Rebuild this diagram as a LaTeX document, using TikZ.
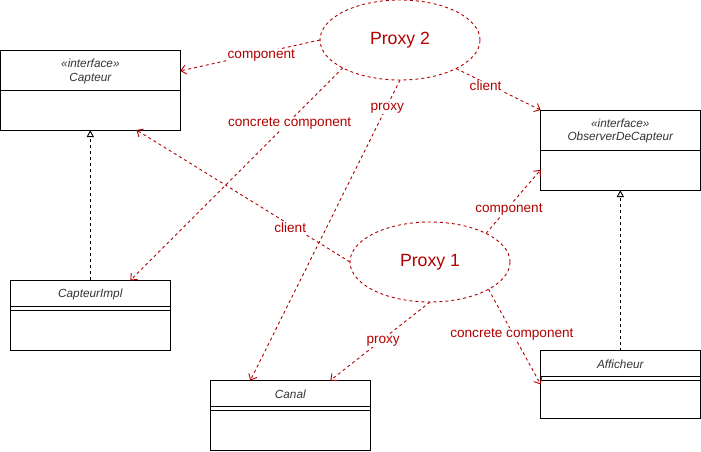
\documentclass[tikz,border=0pt]{standalone}
\usepackage{fontspec}
\setmainfont{Liberation Sans}
\usetikzlibrary{shapes.geometric,arrows.meta}
\definecolor{pred}{HTML}{B20000}
\definecolor{ctext}{HTML}{333333}
\begin{document}
\begin{tikzpicture}[x=1pt,y=-1pt,
  classbox/.style={draw=black,line width=0.9pt,inner sep=0pt,outer sep=0pt},
  cline/.style={draw=black,line width=0.9pt},
  cname/.style={text=ctext,align=center,inner sep=0pt,font=\fontsize{11.8}{13.5}\selectfont\itshape},
  proxyell/.style={ellipse,draw=pred,line width=0.9pt,dash pattern=on 3pt off 3pt,
    minimum width=160pt,minimum height=80pt,inner sep=0pt,outer sep=0pt,
    text=pred,font=\fontsize{17.7}{20}\selectfont},
  rarrow/.style={draw=pred,line width=0.9pt,dash pattern=on 3pt off 3pt,
    -{Straight Barb[length=5pt,width=9pt]}},
  lbl/.style={fill=white,text=pred,inner sep=1pt,yshift=-2.5pt,font=\fontsize{13.6}{15}\selectfont},
  inh/.style={draw=black,line width=0.9pt,dash pattern=on 3pt off 3pt,
    -{Triangle[open,length=7pt,width=7pt]}}
]
\useasboundingbox (0,0) rectangle (701,452);

% class boxes
\node[classbox,minimum width=179.8pt,minimum height=80pt] (capteur) at (90.4,90) {};
\draw[cline] ([yshift=-40pt]capteur.north west) -- ([yshift=-40pt]capteur.north east);
\node[cname] (capteurT) at (90.4,71.5) {«interface»\\Capteur};

\node[classbox,minimum width=160pt,minimum height=69.7pt] (impl) at (90.3,315.2) {};
\draw[cline] ([yshift=-26.4pt]impl.north west) -- ([yshift=-26.4pt]impl.north east);
\draw[cline] ([yshift=-29.7pt]impl.north west) -- ([yshift=-29.7pt]impl.north east);
\node[cname] (implT) at (90.3,294) {CapteurImpl};

\node[classbox,minimum width=159.5pt,minimum height=69.5pt] (canal) at (290.3,415.3) {};
\draw[cline] ([yshift=-26.2pt]canal.north west) -- ([yshift=-26.2pt]canal.north east);
\draw[cline] ([yshift=-29.5pt]canal.north west) -- ([yshift=-29.5pt]canal.north east);
\node[cname] (canalT) at (290.3,394) {Canal};

\node[classbox,minimum width=159.5pt,minimum height=80pt] (obs) at (620.3,150) {};
\draw[cline] ([yshift=-40.5pt]obs.north west) -- ([yshift=-40.5pt]obs.north east);
\node[cname] (obsT) at (620.3,131) {«interface»\\ObserverDeCapteur};

\node[classbox,minimum width=159.5pt,minimum height=67.8pt] (aff) at (620.3,384.4) {};
\draw[cline] ([yshift=-26.2pt]aff.north west) -- ([yshift=-26.2pt]aff.north east);
\draw[cline] ([yshift=-29.5pt]aff.north west) -- ([yshift=-29.5pt]aff.north east);
\node[cname] (affT) at (620.3,364) {Afficheur};

% proxies
\node[proxyell] (p2) at (400,40) {Proxy 2};
\node[proxyell] (p1) at (430,262) {Proxy 1};

% inheritance
\draw[inh] (impl.north) -- (impl.north |- capteur.south);
\draw[inh] (aff.north) -- (aff.north |- obs.south);

% red dependencies
\draw[rarrow] (p2.180) -- node[lbl,pos=0.42] {component} (capteur.12.4);
\draw[rarrow] (p2.206) -- node[lbl,pos=0.25] {concrete component} (impl.41.3);
\draw[rarrow] (p2.270) -- node[lbl,pos=0.085] {proxy} (canal.139.2);
\draw[rarrow] (p2.333) -- node[lbl,pos=0.35] {client} (obs.north west);
\draw[rarrow] (p1.180) -- node[lbl,pos=0.28] {client} (capteur.319.4);
\draw[rarrow] (p1.27) -- node[lbl,pos=0.42] {component} (obs.194.1);
\draw[rarrow] (p1.270) -- node[lbl,pos=0.47] {proxy} (canal.41.2);
\draw[rarrow] (p1.335) -- node[lbl,pos=0.45] {concrete component} (aff.west);
\end{tikzpicture}
\end{document}
